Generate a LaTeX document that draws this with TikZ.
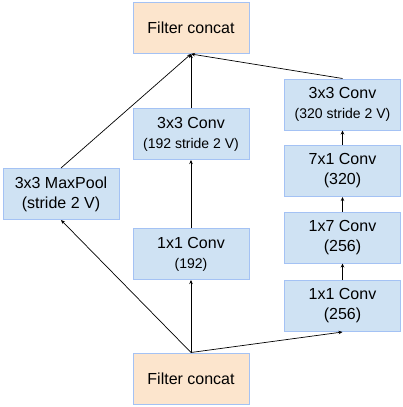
\documentclass[tikz,border=0pt]{standalone}
\usepackage{fontspec}
\setmainfont{Liberation Sans}
\usetikzlibrary{arrows.meta}
\definecolor{bfill}{HTML}{CFE2F3}
\definecolor{ofill}{HTML}{FCE5CD}
\definecolor{bline}{HTML}{A4C2F4}
\tikzset{
  box/.style={draw=bline, line width=1pt, fill=bfill, minimum width=116pt, minimum height=51pt, inner sep=1pt, align=center, font=\fontsize{16}{20}\selectfont},
  obox/.style={box, fill=ofill},
  conn/.style={draw=black, line width=0.7pt, -{Stealth[length=4pt,width=3.5pt]}},
}
\newcommand{\sm}[1]{{\fontsize{14}{20}\selectfont #1}}
\begin{document}
\begin{tikzpicture}[x=1pt,y=-1pt]
\useasboundingbox (0,0) rectangle (402,407);
\node[obox] (top) at (191,28) {Filter concat};
\node[obox] (bot) at (191,378.5) {Filter concat};
\node[box] (mp) at (61,194) {3x3 MaxPool\\(stride 2 V)};
\node[box] (c33m) at (191,134) {3x3 Conv\\\sm{(192 stride 2 V)}};
\node[box] (c11m) at (191,254) {1x1 Conv\\\sm{(192)}};
\node[box] (c33r) at (342.5,104.5) {3x3 Conv\\\sm{(320 stride 2 V)}};
\node[box] (c71) at (342.5,171) {7x1 Conv\\(320)};
\node[box] (c17) at (342.5,237.5) {1x7 Conv\\(256)};
\node[box] (c11r) at (342.5,306) {1x1 Conv\\(256)};
\draw[conn] (bot.north) -- (mp.south);
\draw[conn] (bot.north) -- (c11m.south);
\draw[conn] (bot.north) -- (c11r.south);
\draw[conn] (c11m.north) -- (c33m.south);
\draw[conn] (c11r.north) -- (c17.south);
\draw[conn] (c17.north) -- (c71.south);
\draw[conn] (c71.north) -- (c33r.south);
\draw[conn] (mp.north) -- (top.south);
\draw[conn] (c33m.north) -- (top.south);
\draw[conn] (c33r.north) -- (top.south);
\end{tikzpicture}
\end{document}
